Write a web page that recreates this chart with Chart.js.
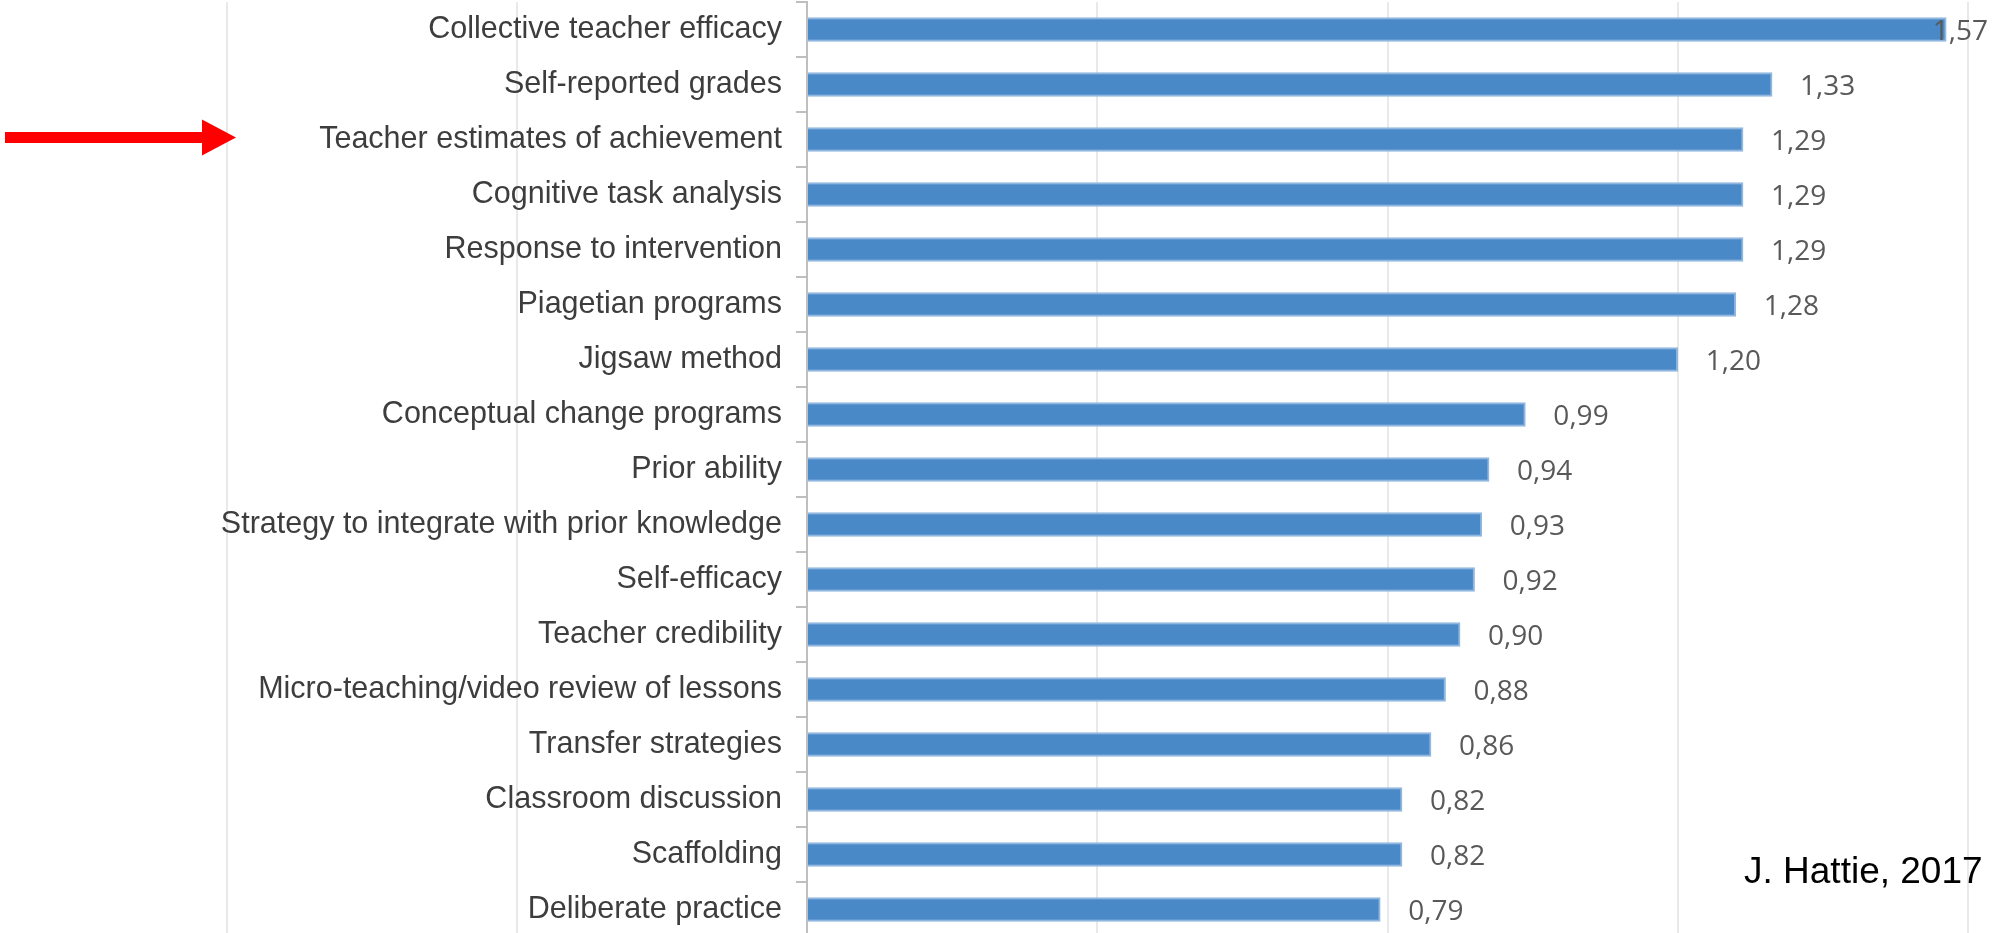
<!DOCTYPE html>
<html>
<head>
<meta charset="utf-8">
<title>Effect sizes</title>
<script src="https://cdn.jsdelivr.net/npm/chart.js@4.4.1/dist/chart.umd.min.js"></script>
<style>
    html, body { margin: 0; padding: 0; background: #fff; overflow: hidden; }
    canvas { display: block; }
</style>
</head>
<body>
<canvas id="myChart" width="1998" height="937"></canvas>
<script>
// Data
const categories = [
    'Collective teacher efficacy',
    'Self-reported grades',
    'Teacher estimates of achievement',
    'Cognitive task analysis',
    'Response to intervention',
    'Piagetian programs',
    'Jigsaw method',
    'Conceptual change programs',
    'Prior ability',
    'Strategy to integrate with prior knowledge',
    'Self-efficacy',
    'Teacher credibility',
    'Micro-teaching/video review of lessons',
    'Transfer strategies',
    'Classroom discussion',
    'Scaffolding',
    'Deliberate practice'
];
const effectSizes = [1.57, 1.33, 1.29, 1.29, 1.29, 1.28, 1.20, 0.99, 0.94, 0.93, 0.92, 0.90, 0.88, 0.86, 0.82, 0.82, 0.79];
const gridValues = [-0.8, -0.4, 0, 0.4, 0.8, 1.2, 1.6];
const markedCategory = 'Teacher estimates of achievement';
const sourceNote = 'J. Hattie, 2017';

const GRID_COLOR = '#e9e9e9';

// Gridlines that run on behind the category labels (values below 0)
const extraGrid = {
    id: 'extraGrid',
    beforeDraw(chart) {
        const ctx = chart.ctx;
        const xScale = chart.scales.x;
        const area = chart.chartArea;
        ctx.save();
        ctx.strokeStyle = GRID_COLOR;
        ctx.lineWidth = 2;
        gridValues.filter(v => v < xScale.min).forEach(v => {
            const x = Math.round(xScale.getPixelForValue(v));
            ctx.beginPath();
            ctx.moveTo(x, area.top);
            ctx.lineTo(x, area.bottom);
            ctx.stroke();
        });
        ctx.restore();
    }
};

// Labels with a decimal comma next to each bar
const valueLabels = {
    id: 'valueLabels',
    afterDatasetsDraw(chart) {
        const ctx = chart.ctx;
        const meta = chart.getDatasetMeta(0);
        ctx.save();
        ctx.font = '28px "Open Sans"';
        ctx.fillStyle = '#595959';
        ctx.textBaseline = 'middle';
        ctx.textAlign = 'left';
        meta.data.forEach((bar, i) => {
            const text = effectSizes[i].toFixed(2).replace('.', ',');
            const w = ctx.measureText(text).width;
            const x = Math.min(bar.x + 28, chart.width - 10 - w); // keep it on the canvas
            ctx.fillText(text, x, bar.y + 3);
        });
        ctx.restore();
    }
};

// Red arrow and source note
const annotations = {
    id: 'annotations',
    afterDraw(chart) {
        const ctx = chart.ctx;
        const y = chart.scales.y.getPixelForValue(categories.indexOf(markedCategory)) - 2;
        ctx.save();
        ctx.fillStyle = '#ff0000';
        ctx.fillRect(5, y - 5.5, 197, 11);
        ctx.beginPath();
        ctx.moveTo(202, y - 18);
        ctx.lineTo(236, y);
        ctx.lineTo(202, y + 18);
        ctx.closePath();
        ctx.fill();

        ctx.fillStyle = '#000';
        ctx.font = '37px "Liberation Sans", Arial, sans-serif';
        ctx.textBaseline = 'alphabetic';
        ctx.textAlign = 'left';
        ctx.fillText(sourceNote, 1744, 883);
        ctx.restore();
    }
};

const ctx = document.getElementById('myChart').getContext('2d');
const myChart = new Chart(ctx, {
    type: 'bar',
    data: {
        labels: categories,
        datasets: [{
            data: effectSizes,
            backgroundColor: '#4a89c7',
            borderColor: '#8fb7e0',
            borderWidth: 2,
            barThickness: 24
        }]
    },
    options: {
        indexAxis: 'y',
        responsive: false,
        animation: false,
        layout: {
            padding: { left: 0, right: 30, top: 2, bottom: 0 }
        },
        plugins: {
            legend: { display: false },
            tooltip: { enabled: false }
        },
        scales: {
            x: {
                min: 0,
                max: gridValues[gridValues.length - 1],
                ticks: { display: false, stepSize: 0.4 },
                grid: { color: GRID_COLOR, lineWidth: 2, drawTicks: false },
                border: { display: false }
            },
            y: {
                position: 'left',
                afterFit(scale) {
                    scale.width = 807;     // axis sits where value 0 is in the picture
                    scale.paddingTop = 0;
                    scale.paddingBottom = 0;
                },
                grid: { drawOnChartArea: false, tickLength: 11, color: '#bfbfbf', lineWidth: 2 },
                border: { color: '#bfbfbf', width: 2 },
                ticks: {
                    autoSkip: false,
                    padding: 14,
                    color: '#3d3d3d',
                    font: { family: '"Liberation Sans", Arial, sans-serif', size: 30.5 }
                }
            }
        }
    },
    plugins: [extraGrid, valueLabels, annotations]
});
</script>
</body>
</html>
